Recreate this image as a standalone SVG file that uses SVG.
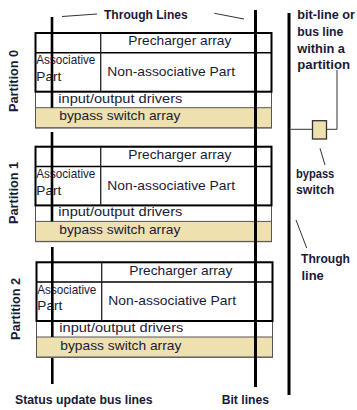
<svg xmlns="http://www.w3.org/2000/svg" width="357" height="410" viewBox="0 0 357 410">
<style>
.t{font-family:"Liberation Sans",Arial,sans-serif;fill:#1a1a38;}
.r{font-size:13px;}
.s{font-size:13px;}
.b{font-weight:bold;font-size:12px;}
.thin{fill:#fff;stroke:#555;stroke-width:1;}
.byp{fill:#EEE0AF;stroke:#555;stroke-width:1;}
.thick{fill:none;stroke:#000;stroke-width:2;}
.mid{stroke:#000;stroke-width:1.5;fill:none;}
.div{stroke:#222;stroke-width:1.3;fill:none;}
.bus{stroke:#000;stroke-width:2.6;fill:none;}
.big{stroke:#000;stroke-width:3;fill:none;}
.ptr{stroke:#333;stroke-width:1;fill:none;}
</style>
<defs>
<g id="partBody">
<rect class="thin" x="0" y="0" width="236" height="95"/>
<rect class="byp" x="0" y="74.7" width="236" height="20"/>
<rect class="thick" x="0" y="0" width="236" height="58.7"/>
<line class="mid" x1="0" y1="19.7" x2="236" y2="19.7"/>
<line class="div" x1="65.2" y1="0" x2="65.2" y2="58.7"/>
<text class="t r" x="92.8" y="12.3" textLength="103" lengthAdjust="spacingAndGlyphs">Precharger array</text>
<text class="t s" x="0.8" y="31.3" textLength="59" lengthAdjust="spacingAndGlyphs">Associative</text>
<text class="t s" x="0.8" y="48" textLength="25" lengthAdjust="spacingAndGlyphs">Part</text>
<text class="t r" x="71.8" y="43" textLength="127.7" lengthAdjust="spacingAndGlyphs">Non-associative Part</text>
<text class="t r" x="22.8" y="69.7" textLength="124" lengthAdjust="spacingAndGlyphs">input/output drivers</text>
<text class="t r" x="23.8" y="87.3" textLength="121" lengthAdjust="spacingAndGlyphs">bypass switch array</text>
</g>
</defs>
<g id="partition0" transform="translate(35.5,33)"><use href="#partBody"/></g>
<g id="partition1" transform="translate(35.5,146.7)"><use href="#partBody"/></g>
<g id="partition2" transform="translate(36.5,262.3)"><use href="#partBody"/></g>
<g id="labels">
<text class="t b" transform="translate(17.5,81) rotate(-90)" text-anchor="middle" textLength="62" lengthAdjust="spacingAndGlyphs">Partition 0</text>
<text class="t b" transform="translate(17.5,193) rotate(-90)" text-anchor="middle" textLength="62" lengthAdjust="spacingAndGlyphs">Partition 1</text>
<text class="t b" transform="translate(19.5,309) rotate(-90)" text-anchor="middle" textLength="62" lengthAdjust="spacingAndGlyphs">Partition 2</text>
<text class="t b" x="104" y="18.5" textLength="83.7" lengthAdjust="spacingAndGlyphs">Through Lines</text>
<text class="t b" x="297.3" y="18.5" textLength="57.7" lengthAdjust="spacingAndGlyphs">bit-line or</text>
<text class="t b" x="297.3" y="35.5" textLength="46" lengthAdjust="spacingAndGlyphs">bus line</text>
<text class="t b" x="297.3" y="52.5" textLength="47.7" lengthAdjust="spacingAndGlyphs">within a</text>
<text class="t b" x="297.3" y="69.3" textLength="52.7" lengthAdjust="spacingAndGlyphs">partition</text>
<text class="t b" x="296" y="177.5" textLength="38.3" lengthAdjust="spacingAndGlyphs">bypass</text>
<text class="t b" x="296" y="194.3" textLength="38.3" lengthAdjust="spacingAndGlyphs">switch</text>
<text class="t b" x="301" y="263.3" textLength="49" lengthAdjust="spacingAndGlyphs">Through</text>
<text class="t b" x="301.5" y="280" textLength="22.3" lengthAdjust="spacingAndGlyphs">line</text>
<text class="t b" x="15" y="404" textLength="137.7" lengthAdjust="spacingAndGlyphs">Status update bus lines</text>
<text class="t b" x="221.7" y="403.5" textLength="47.3" lengthAdjust="spacingAndGlyphs">Bit lines</text>
</g>
<g id="connectors">
<line class="bus" x1="52" y1="17" x2="52" y2="107.7"/>
<line class="bus" x1="52" y1="132" x2="52" y2="221.4"/>
<line class="bus" x1="52.3" y1="247" x2="52.3" y2="337"/>
<line class="bus" x1="52.3" y1="358" x2="52.3" y2="384"/>
<line class="big" x1="255.5" y1="10" x2="255.5" y2="387"/>
<line class="big" x1="289" y1="13" x2="289" y2="395"/>
<line class="ptr" x1="290.5" y1="129.3" x2="312.5" y2="129.3"/>
<polyline class="ptr" points="326.5,129.3 337,129.3 337,70"/>
<line class="ptr" x1="320" y1="148.3" x2="325" y2="165"/>
<line class="ptr" x1="296" y1="220" x2="306.7" y2="248"/>
<line class="ptr" x1="62" y1="16.5" x2="97" y2="14"/>
<line class="ptr" x1="214.3" y1="13.3" x2="244" y2="19"/>
</g>
<g id="bypassSwitch">
<rect x="312.5" y="120.7" width="14" height="18.3" fill="#EEE0AF" stroke="#333" stroke-width="1.3"/>
</g>
</svg>
